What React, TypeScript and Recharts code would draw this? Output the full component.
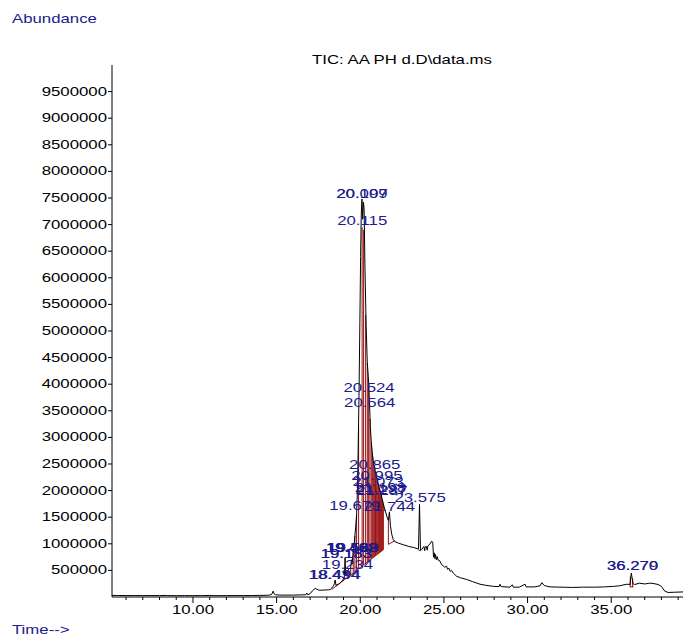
import {
  ComposedChart,
  Line,
  Scatter,
  XAxis,
  YAxis,
  ReferenceLine,
} from 'recharts';

// retention time (min) and total ion current
const times = [
  5.16, 5.5, 6.0, 6.5, 7.0, 7.5, 8.0, 8.4, 8.5, 9.0, 9.5, 10.0, 10.5, 11.0, 11.2, 11.5,
  12.0, 12.5, 13.0, 13.5, 14.0, 14.5, 14.7, 14.79, 14.85, 14.95, 15.2, 15.5, 16.0, 16.5,
  16.75, 16.8, 16.85, 17.0, 17.15, 17.3, 17.4, 17.5, 17.7, 17.9, 18.1, 18.2, 18.3, 18.4,
  18.45, 18.494, 18.55, 18.7, 18.85, 18.98, 19.05, 19.09, 19.13, 19.2, 19.25, 19.35, 19.43,
  19.47, 19.51, 19.58, 19.65, 19.72, 19.78, 19.83, 19.87, 19.92, 19.97, 20.02, 20.06,
  20.099, 20.107, 20.14, 20.19, 20.23, 20.28, 20.35, 20.42, 20.48, 20.524, 20.564, 20.6,
  20.66, 20.74, 20.8, 20.865, 20.93, 20.995, 21.073, 21.14, 21.2, 21.25, 21.3, 21.38,
  21.46, 21.55, 21.62, 21.68, 21.744, 21.8, 21.88, 21.97, 22.08, 22.3, 22.6, 22.9, 23.2,
  23.48, 23.54, 23.6, 23.67, 23.75, 23.8, 23.85, 23.88, 23.95, 24.0, 24.04, 24.15, 24.27,
  24.33, 24.38, 24.42, 24.46, 24.5, 24.55, 24.6, 24.66, 24.75, 24.86, 24.95, 25.05, 25.16,
  25.22, 25.3, 25.38, 25.45, 25.56, 25.76, 26.0, 26.36, 26.7, 27.16, 27.5, 27.95, 28.3,
  28.35, 28.42, 28.95, 29.09, 29.15, 29.5, 29.85, 29.92, 30.4, 30.75, 30.85, 31.0, 31.34,
  32.0, 32.7, 33.33, 34.0, 34.6, 35.13, 35.5, 35.93, 36.12, 36.2, 36.3, 36.4, 36.7, 37.0,
  37.3, 37.5, 37.8, 38.0, 38.2, 38.4, 38.8, 39.29,
];

const abundance = [
  30000, 28000, 27000, 27000, 26000, 27000, 26000, 30000, 26000, 25000, 26000, 25000, 26000, 29000, 25000, 25000,
  26000, 27000, 26000, 28000, 30000, 33000, 45000, 110000, 60000, 40000, 36000, 35000, 36000, 40000,
  42000, 75000, 45000, 60000, 120000, 160000, 150000, 130000, 128000, 132000, 135000, 140000, 170000, 210000,
  250000, 320000, 220000, 240000, 280000, 330000, 380000, 740000, 420000, 470000, 500000, 530000, 560000,
  700000, 620000, 850000, 1050000, 1300000, 1550000, 2000000, 2700000, 3700000, 5000000, 6400000, 7200000,
  7480000, 7460000, 7100000, 7420000, 7300000, 6200000, 5100000, 4400000, 4150000, 3850000, 3550000, 3200000,
  2900000, 2650000, 2500000, 2420000, 2300000, 2230000, 2120000, 2050000, 1980000, 1930000, 1850000, 1750000,
  1650000, 1560000, 1480000, 1440000, 1600000, 1350000, 1180000, 1080000, 1040000, 1010000, 980000, 950000, 930000,
  900000, 1740000, 880000, 890000, 930000, 950000, 870000, 940000, 950000, 880000, 960000, 990000, 1050000,
  1030000, 750000, 830000, 720000, 800000, 700000, 760000, 690000, 680000, 610000, 590000, 560000, 580000,
  520000, 540000, 480000, 500000, 450000, 390000, 360000, 330000, 290000, 240000, 220000, 200000, 195000,
  240000, 195000, 185000, 230000, 185000, 185000, 240000, 190000, 190000, 210000, 270000, 215000, 190000,
  185000, 180000, 185000, 185000, 190000, 200000, 210000, 240000, 235000, 450000, 250000, 235000, 260000, 245000,
  260000, 255000, 235000, 200000, 110000, 85000, 90000, 95000,
];

// integration drop lines: time, baseline level, top level
const dropTimes = [18.55, 18.98, 19.22, 19.43, 19.58, 19.68, 19.78, 19.9, 20.11, 20.2, 20.32, 20.42, 20.5, 20.58, 20.66, 20.74, 20.8, 20.86, 20.91, 20.96, 21.01, 21.06, 21.1, 21.14, 21.18, 21.22, 21.26, 21.3, 21.34, 21.38, 21.68, 36.14, 36.28];
const dropBase = [200000, 310000, 370000, 420000, 450000, 480000, 500000, 530000, 580000, 600000, 630000, 655000, 675000, 690000, 710000, 730000, 745000, 760000, 775000, 790000, 800000, 810000, 820000, 830000, 840000, 850000, 860000, 870000, 880000, 890000, 990000, 190000, 190000];
const dropTop = [220000, 330000, 480000, 560000, 850000, 1150000, 1550000, 3200000, 6950000, 6900000, 5300000, 4400000, 4000000, 3350000, 2900000, 2650000, 2500000, 2420000, 2320000, 2260000, 2200000, 2130000, 2090000, 2050000, 2000000, 1970000, 1920000, 1850000, 1800000, 1750000, 1440000, 380000, 350000];

// integration baselines: [t1, a1, t2, a2]
const baselines = [
  [18.29, 140000, 21.38, 890000],
  [21.68, 990000, 22.08, 1060000],
  [23.48, 880000, 23.62, 870000],
  [36.1, 190000, 36.33, 190000],
];

// peak annotations
const peakNames = [
  '20.099', '20.107', '20.115', '20.524', '20.564', '20.865', '20.995', '21.073',
  '21.198', '21.237', '21.287', '19.679', '21.744', '23.575',
  '19.468', '19.482', '19.528', '19.569', '19.153', '19.183', '19.234', '18.434', '18.494',
  '36.270', '36.279',
];
const peakLabelLevels = [
  7580000, 7580000, 7070000, 3930000, 3650000, 2490000, 2280000, 2170000,
  2040000, 2020000, 2000000, 1710000, 1700000, 1870000,
  930000, 930000, 930000, 930000, 800000, 800000, 610000, 420000, 420000,
  580000, 580000,
];

const yTicks = [500000, 1000000, 1500000, 2000000, 2500000, 3000000, 3500000, 4000000, 4500000, 5000000, 5500000, 6000000, 6500000, 7000000, 7500000, 8000000, 8500000, 9000000, 9500000];
const xTicks = [6, 7, 8, 9, 10, 11, 12, 13, 14, 15, 16, 17, 18, 19, 20, 21, 22, 23, 24, 25, 26, 27, 28, 29, 30, 31, 32, 33, 34, 35, 36, 37, 38, 39];
const xLabelTicks = [10, 15, 20, 25, 30, 35];

const traceData = times.map((t, i) => ({ t, v: abundance[i] }));
const labelData = peakNames.map((name, i) => ({ t: parseFloat(name), v: peakLabelLevels[i], name }));

const FONT = '"Liberation Sans", Arial, sans-serif';
const BLUE = '#1c1c8e';
const RED = '#9a1010';
const SX = 1.4;

function XTick(props: any) {
  const { x, y, payload } = props;
  const major = xLabelTicks.includes(payload.value);
  return (
    <g>
      <line x1={x} x2={x} y1={y} y2={y + (major ? 6 : 3)} stroke="#000" strokeWidth={1} />
      {major && (
        <text
          transform={`translate(${x},${y + 17}) scale(${SX},1)`}
          textAnchor="middle"
          fontSize={12}
          fontFamily={FONT}
          fill="#000"
        >
          {payload.value.toFixed(2)}
        </text>
      )}
    </g>
  );
}

function YTick(props: any) {
  const { x, y, payload } = props;
  return (
    <text
      transform={`translate(${x},${y + 4}) scale(${SX},1)`}
      textAnchor="end"
      fontSize={12}
      fontFamily={FONT}
      fill="#000"
    >
      {payload.value}
    </text>
  );
}

function PeakLabel(props: any) {
  const { cx, cy, payload } = props;
  return (
    <text
      transform={`translate(${cx},${cy + 4}) scale(${SX},1)`}
      textAnchor="middle"
      fontSize={12}
      fontFamily={FONT}
      fill={BLUE}
    >
      {payload.name}
    </text>
  );
}

export default function App() {
  return (
    <div style={{ position: 'absolute', left: 0, top: 0, width: 683, height: 635, background: '#fff' }}>
      <div style={{ position: 'absolute', left: 0, top: 0 }}>
        <ComposedChart
          width={683}
          height={635}
          data={traceData}
          margin={{ top: 65, right: 0, bottom: 0, left: 8 }}
        >
          <XAxis
            dataKey="t"
            type="number"
            domain={[5.16, 39.29]}
            allowDataOverflow
            ticks={xTicks}
            interval={0}
            tick={<XTick />}
            tickLine={false}
            tickSize={0}
            tickMargin={0}
            height={38}
            axisLine={{ stroke: '#000' }}
          />
          <YAxis
            type="number"
            domain={[0, 10000000]}
            allowDataOverflow
            ticks={yTicks}
            interval={0}
            tick={<YTick />}
            tickSize={4}
            tickMargin={1}
            tickLine={{ stroke: '#000' }}
            axisLine={{ stroke: '#000' }}
            width={104}
          />
          {baselines.map((b, i) => (
            <ReferenceLine
              key={`b-${i}`}
              segment={[{ x: b[0], y: b[1] }, { x: b[2], y: b[3] }]}
              stroke={RED}
              strokeWidth={1}
            />
          ))}
          {dropTimes.map((t, i) => (
            <ReferenceLine
              key={`d-${i}`}
              segment={[{ x: t, y: dropBase[i] }, { x: t, y: dropTop[i] }]}
              stroke={RED}
              strokeWidth={1}
            />
          ))}
          <Line
            dataKey="v"
            type="linear"
            stroke="#000"
            strokeWidth={1}
            dot={false}
            activeDot={false}
            isAnimationActive={false}
          />
          <Scatter
            data={labelData}
            dataKey="v"
            shape={<PeakLabel />}
            isAnimationActive={false}
          />
        </ComposedChart>
      </div>
      <svg
        width={683}
        height={635}
        style={{ position: 'absolute', left: 0, top: 0, pointerEvents: 'none' }}
      >
        <text transform={`translate(12,23) scale(${SX},1)`} fontSize={12} fontFamily={FONT} fill={BLUE}>
          Abundance
        </text>
        <text transform={`translate(402,64) scale(${SX},1)`} textAnchor="middle" fontSize={12} fontFamily={FONT} fill="#000">
          TIC: AA PH d.D\data.ms
        </text>
        <text transform={`translate(12,634) scale(${SX},1)`} fontSize={12} fontFamily={FONT} fill={BLUE}>
          Time--&gt;
        </text>
      </svg>
    </div>
  );
}
